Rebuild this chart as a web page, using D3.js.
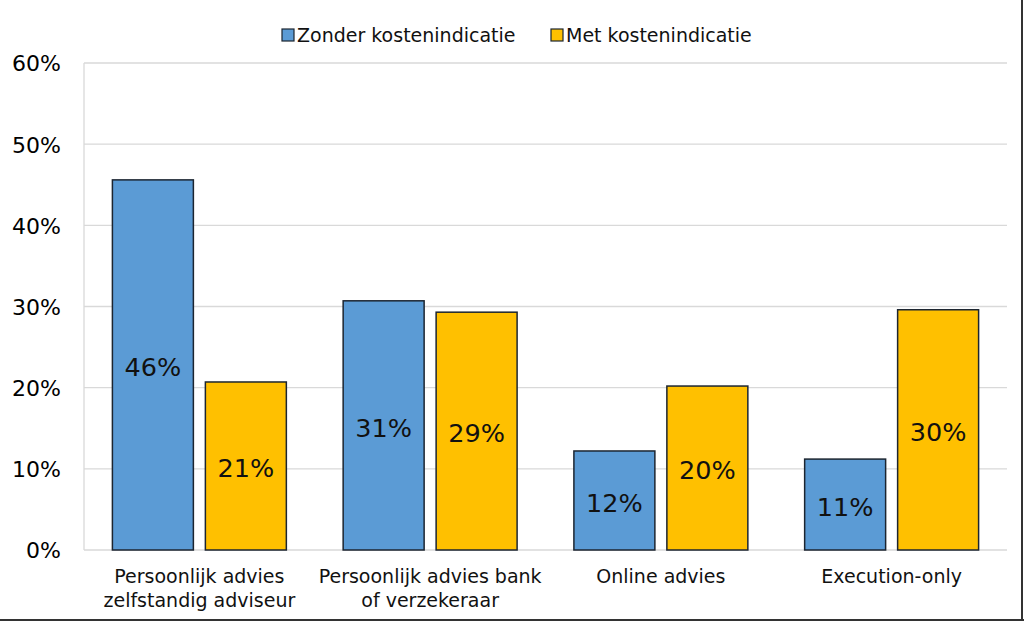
<!DOCTYPE html>
<html><head><meta charset="utf-8">
<script src="https://cdn.jsdelivr.net/npm/d3@7"></script>
<style>html,body{margin:0;padding:0;background:#fff;}svg{display:block;}</style>
</head><body>
<svg id="chart" width="1024" height="621"></svg>
<script>
const categories = [["Persoonlijk advies","zelfstandig adviseur"],["Persoonlijk advies bank","of verzekeraar"],["Online advies"],["Execution-only"]];
const seriesNames = ["Zonder kostenindicatie","Met kostenindicatie"];
const zonderValues = [0.456, 0.307, 0.122, 0.112];
const metValues = [0.207, 0.293, 0.202, 0.296];
const yTicks = [0, 0.1, 0.2, 0.3, 0.4, 0.5, 0.6];
const colors = ["#5B9BD5", "#FFC000"];

(function(){
const svg = d3.select("#chart");
const font = "DejaVu Sans, Verdana, sans-serif";
const pLeft = 84, pRight = 1007, pTop = 63, pBottom = 550;

const catIdx = categories.map((d,i)=>i);
const x0 = d3.scaleBand().domain(catIdx).range([pLeft,pRight]).padding(0);
const x1 = d3.scaleBand().domain([0,1]).range([28.4, x0.bandwidth()-28.4]).paddingInner(0.129).paddingOuter(0);
const y = d3.scaleLinear().domain([0,0.6]).range([pBottom, pTop]);
const fmt = d3.format(".0%");

svg.append("g").selectAll("line").data(yTicks).join("line")
  .attr("x1", pLeft).attr("x2", pRight)
  .attr("y1", d=>y(d)).attr("y2", d=>y(d))
  .attr("stroke", "#d9d9d9").attr("stroke-width", 1.3);
svg.append("line").attr("x1", pLeft).attr("x2", pLeft).attr("y1", pTop).attr("y2", pBottom)
  .attr("stroke", "#d9d9d9").attr("stroke-width", 1.3);

const yAxis = d3.axisLeft(y).tickValues(yTicks).tickFormat(fmt).tickSize(0).tickPadding(0);
const ya = svg.append("g").attr("transform", `translate(61,0)`).call(yAxis);
ya.select(".domain").remove();
ya.selectAll("text").attr("font-family", font).attr("font-size", 22).attr("fill", "#000").attr("dy", "0.36em");

const data = catIdx.map(i => [zonderValues[i], metValues[i]]);
const groups = svg.append("g").selectAll("g").data(data).join("g")
  .attr("transform", (d,i)=>`translate(${x0(i)},0)`);
groups.selectAll("rect").data(d=>d.map((v,s)=>({v,s}))).join("rect")
  .attr("x", d=>x1(d.s)).attr("width", x1.bandwidth())
  .attr("y", d=>y(d.v)).attr("height", d=>y(0)-y(d.v))
  .attr("fill", d=>colors[d.s]).attr("stroke", "#1c2530").attr("stroke-width", 1.5);
groups.selectAll("text").data(d=>d.map((v,s)=>({v,s}))).join("text")
  .attr("x", d=>x1(d.s)+x1.bandwidth()/2)
  .attr("y", d=>(y(d.v)+y(0))/2 + 2)
  .attr("dy", "0.36em")
  .attr("text-anchor", "middle")
  .attr("font-family", font).attr("font-size", 25.5).attr("fill", "#111")
  .text(d=>fmt(d.v));

const catG = svg.append("g").selectAll("text").data(categories).join("text")
  .attr("text-anchor", "middle")
  .attr("font-family", font).attr("font-size", 19).attr("fill", "#111")
  .attr("transform", (d,i)=>`translate(${x0(i)+x0.bandwidth()/2},583)`);
catG.selectAll("tspan").data(d=>d).join("tspan")
  .attr("x", 0).attr("y", (d,j)=>j*24).text(d=>d);

const legendX = [282, 551];
const lg = svg.append("g").selectAll("g").data(seriesNames).join("g")
  .attr("transform", (d,i)=>`translate(${legendX[i]},29)`);
lg.append("rect").attr("width", 12).attr("height", 12)
  .attr("fill", (d,i)=>colors[i]).attr("stroke", "#1c2530").attr("stroke-width", 1.2);
lg.append("text").attr("x", 15).attr("y", 6).attr("dy", "0.36em")
  .attr("font-family", font).attr("font-size", 19).attr("fill", "#111").text(d=>d);

svg.append("line").attr("x1", 1022).attr("x2", 1022).attr("y1", 0).attr("y2", 621).attr("stroke", "#333").attr("stroke-width", 2);
svg.append("line").attr("x1", 0).attr("x2", 1024).attr("y1", 620).attr("y2", 620).attr("stroke", "#333").attr("stroke-width", 2);
})();
</script>
</body></html>
